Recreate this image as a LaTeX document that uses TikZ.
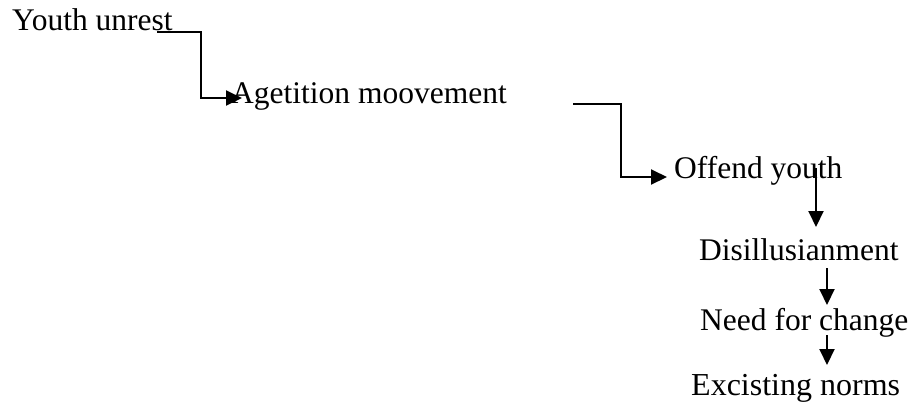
\documentclass[tikz,border=0pt]{standalone}
\usepackage{fontspec}
\setmainfont{Liberation Serif}
\usetikzlibrary{arrows.meta}
\begin{document}
\begin{tikzpicture}[x=1pt,y=-1pt,
  lbl/.style={anchor=base west,inner sep=0pt,font=\fontsize{31.5}{37}\selectfont},
  conn/.style={line width=2pt,-{Triangle[length=16pt,width=15pt]}}]
\useasboundingbox[fill=white] (0,0) rectangle (910,408);
\node[lbl] (yu) at (12,30) {Youth unrest};
\node[lbl] (ag) at (231,103) {Agetition moovement};
\node[lbl] (of) at (674,178) {Offend youth};
\node[lbl] (di) at (699,260) {Disillusianment};
\node[lbl] (ne) at (700,330) {Need for change};
\node[lbl,font=\fontsize{32}{37}\selectfont] (ex) at (691,395) {Excisting norms};
% connector end points
\coordinate (s1) at (157,32);
\coordinate (t1) at (242,98);
\coordinate (s2) at (573,104);
\coordinate (t2) at (667,177);
\coordinate (s3) at (816,168);
\coordinate (t3) at (816,227);
\coordinate (s4) at (827,268);
\coordinate (t4) at (827,305);
\coordinate (s5) at (827,335);
\coordinate (t5) at (827,365);
\draw[conn] (s1) -- (201,32) |- (t1);
\draw[conn] (s2) -- (621,104) |- (t2);
\draw[conn] (s3) -- (t3);
\draw[conn] (s4) -- (t4);
\draw[conn] (s5) -- (t5);
\end{tikzpicture}
\end{document}
